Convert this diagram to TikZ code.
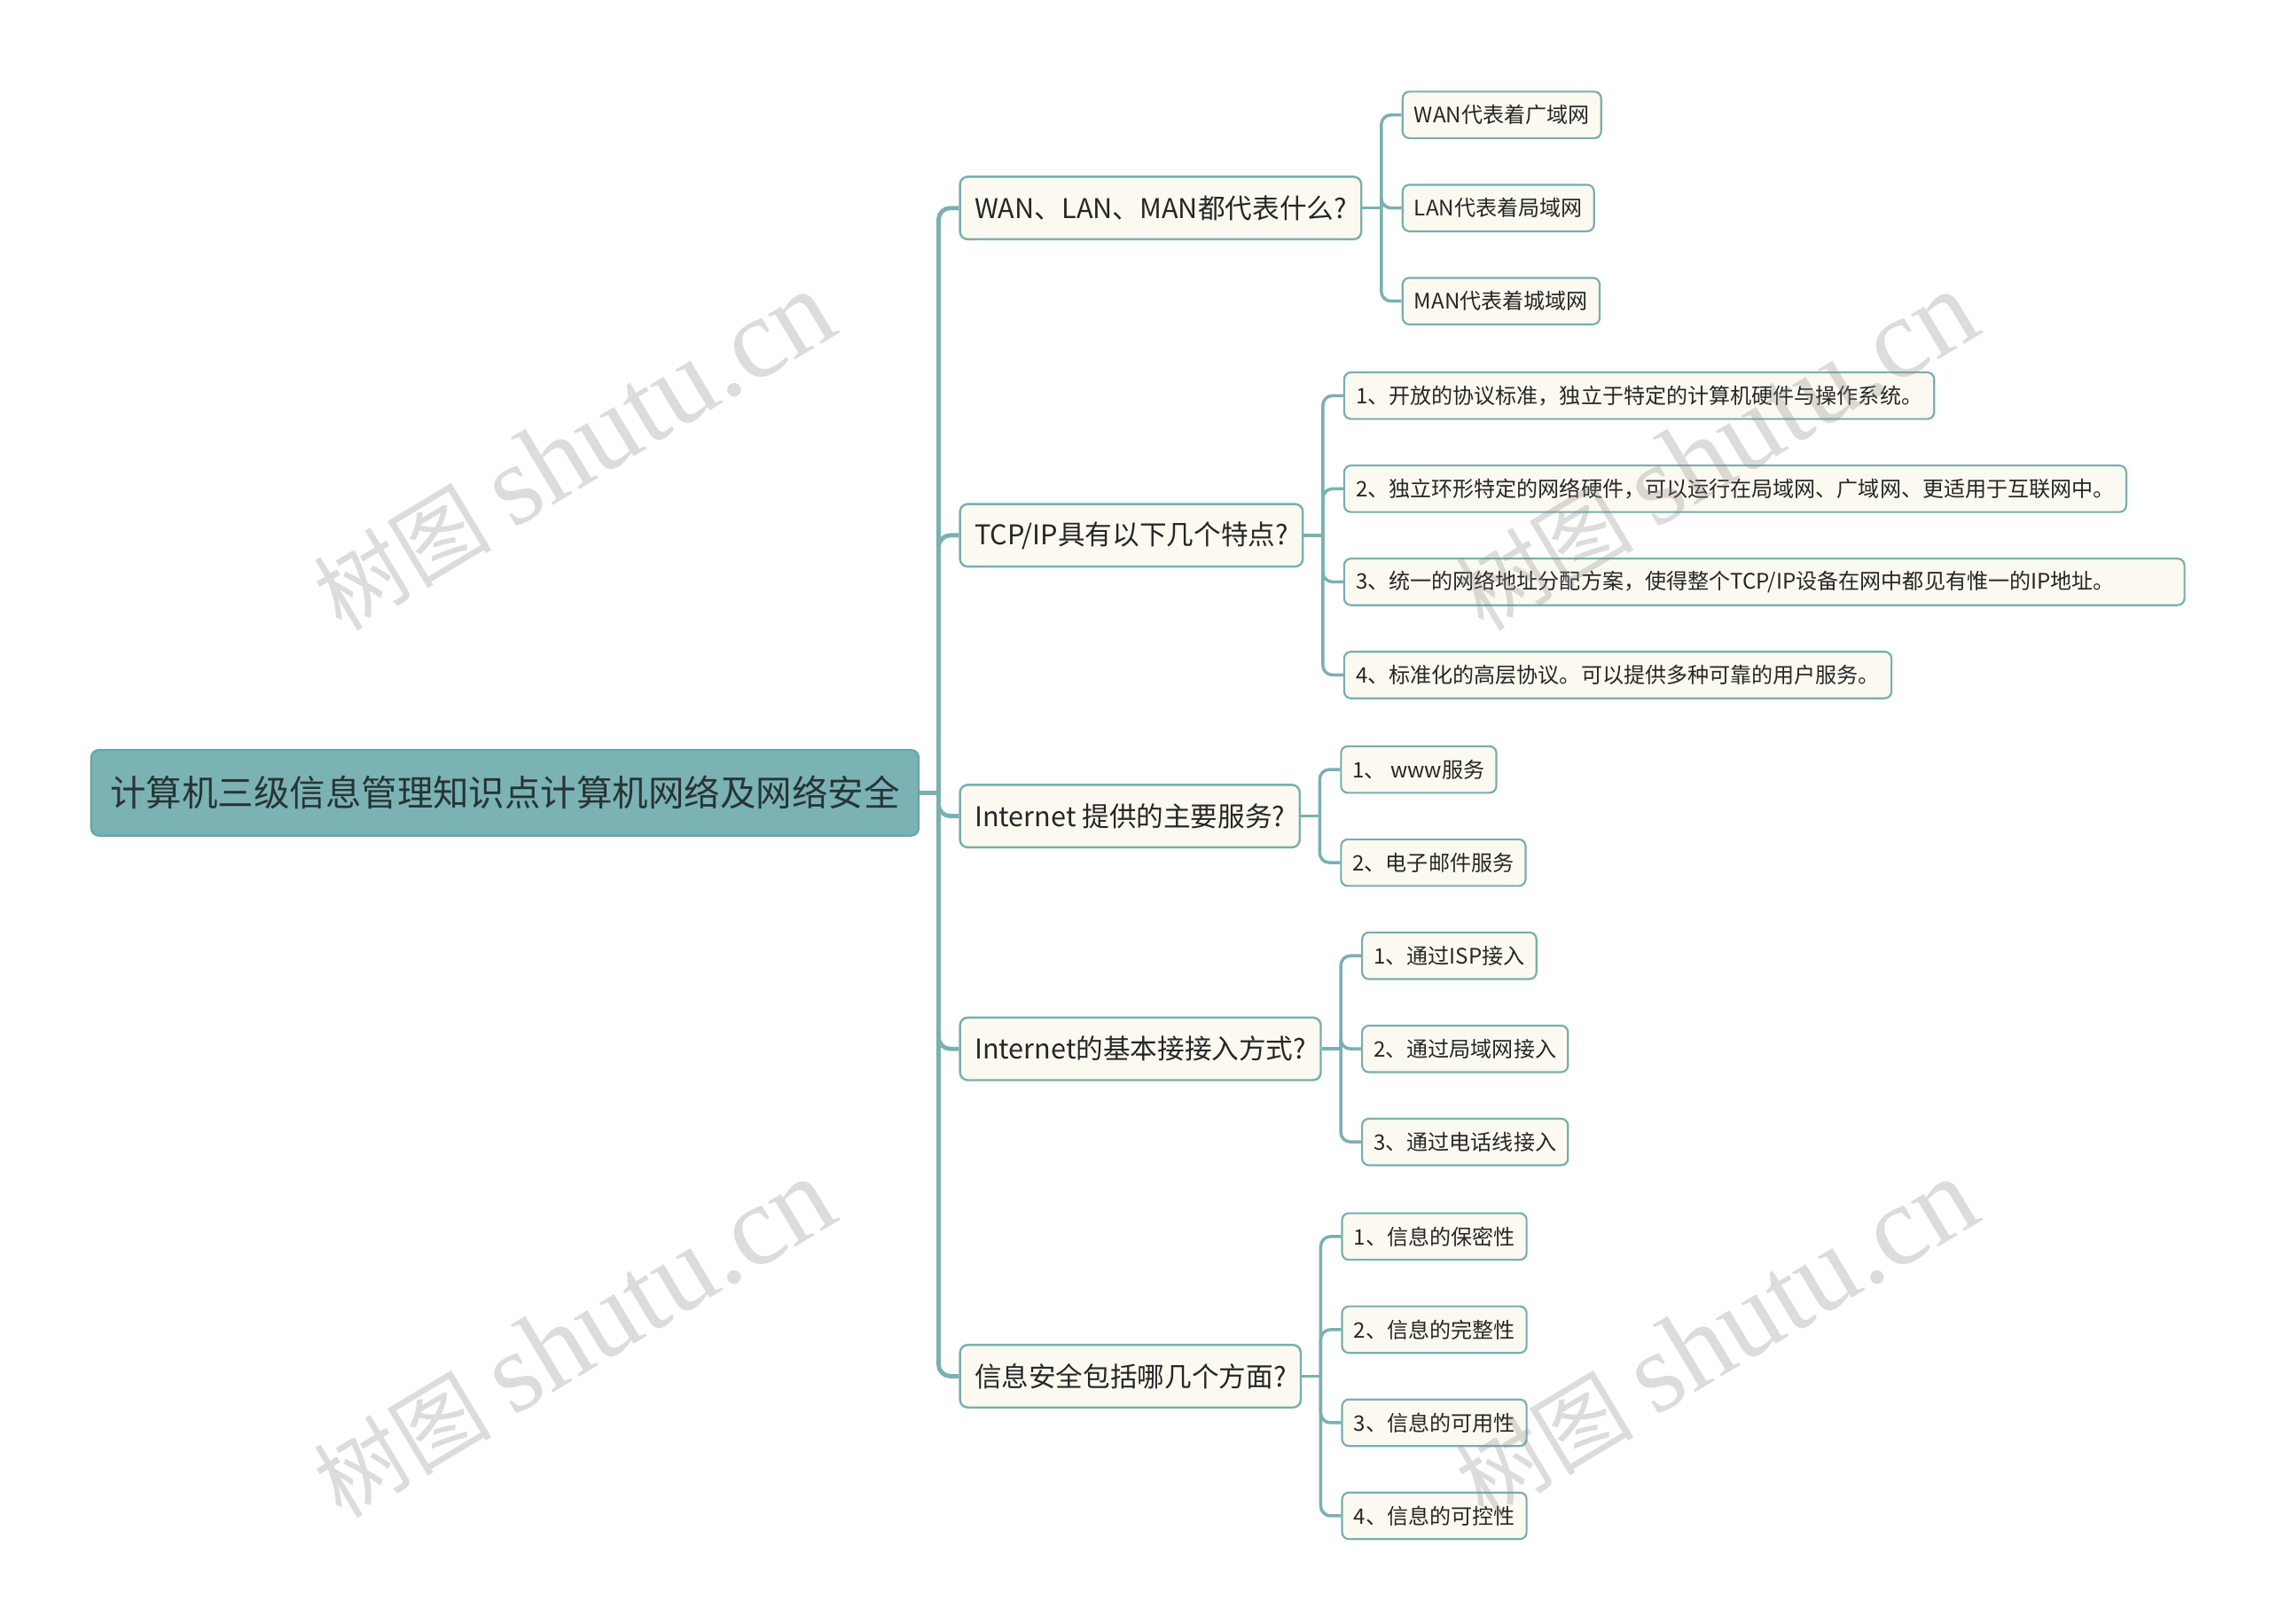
\documentclass[tikz,border=0pt]{standalone}
\usepackage{fontspec}
\setmainfont{Noto Sans CJK SC}
\newfontfamily\wmlatin{Liberation Serif}
\usetikzlibrary{positioning}

\definecolor{rootfill}{RGB}{123,179,181}
\definecolor{rootline}{RGB}{106,164,167}
\definecolor{rootink}{RGB}{40,52,52}
\definecolor{boxfill}{RGB}{252,250,240}
\definecolor{boxline}{RGB}{120,174,176}
\definecolor{linkline}{RGB}{122,176,178}
\definecolor{inktext}{RGB}{38,38,38}

\tikzset{every picture/.style={line width=0.75pt}}
\tikzset{
  rootbox/.style={draw=rootline, fill=rootfill, rounded corners=4pt, line width=1pt,
    inner xsep=9.75pt, inner ysep=0pt, minimum height=44.25pt,
    font=\fontsize{18.5}{22}\selectfont, text=rootink},
  topicbox/.style={draw=boxline, fill=boxfill, rounded corners=4pt, line width=1.1pt,
    inner xsep=7.5pt, inner ysep=0pt, minimum height=32.25pt,
    font=\fontsize{14}{17}\selectfont, text=inktext},
  leafbox/.style={draw=boxline, fill=boxfill, rounded corners=3.5pt, line width=1pt,
    inner xsep=6pt, inner ysep=0pt, minimum height=24pt,
    font=\fontsize{11}{13}\selectfont, text=inktext},
  trunk/.style={draw=linkline, line width=2.2pt, rounded corners=6pt},
  twig/.style={draw=linkline, line width=1.6pt, rounded corners=5pt},
  watermark/.style={text=black!45, opacity=0.3, rotate=31, inner sep=0pt}
}

\begin{document}
\begin{tikzpicture}[x=0.75pt,y=0.75pt,yscale=-1,xscale=1]
\useasboundingbox (0,0) rectangle (1560,1116);
\fill[white] (0,0) rectangle (1560,1116);

% Root
\node[rootbox, anchor=west] (root) at (62,545) {计算机三级信息管理知识点计算机网络及网络安全};

% Topics
\node[topicbox, anchor=west] (wan) at (659,143) {WAN、LAN、MAN都代表什么?};
\node[topicbox, anchor=west] (tcp) at (659,368) {TCP/IP具有以下几个特点?};
\node[topicbox, anchor=west] (svc) at (659,561) {Internet 提供的主要服务?};
\node[topicbox, anchor=west] (acc) at (659,721) {Internet的基本接接入方式?};
\node[topicbox, anchor=west] (sec) at (659,946) {信息安全包括哪几个方面?};

% Leaves of wan
\node[leafbox, right=20.25pt of wan, yshift=48pt] (wan1) {WAN代表着广域网};
\node[leafbox, right=20.25pt of wan] (wan2) {LAN代表着局域网};
\node[leafbox, right=20.25pt of wan, yshift=-48pt] (wan3) {MAN代表着城域网};

% Leaves of tcp
\node[leafbox, right=20.25pt of tcp, yshift=72pt] (tcp1) {1、开放的协议标准，独立于特定的计算机硬件与操作系统。};
\node[leafbox, right=20.25pt of tcp, yshift=24pt] (tcp2) {2、独立环形特定的网络硬件，可以运行在局域网、广域网、更适用于互联网中。};
\node[leafbox, right=20.25pt of tcp, yshift=-24pt] (tcp3) {3、统一的网络地址分配方案，使得整个TCP/IP设备在网中都见有惟一的IP地址。\hspace*{30pt}};
\node[leafbox, right=20.25pt of tcp, yshift=-72pt] (tcp4) {4、标准化的高层协议。可以提供多种可靠的用户服务。};

% Leaves of svc
\node[leafbox, right=20.25pt of svc, yshift=24pt] (svc1) {1、 www服务};
\node[leafbox, right=20.25pt of svc, yshift=-24pt] (svc2) {2、电子邮件服务};

% Leaves of acc
\node[leafbox, right=20.25pt of acc, yshift=48pt] (acc1) {1、通过ISP接入};
\node[leafbox, right=20.25pt of acc] (acc2) {2、通过局域网接入};
\node[leafbox, right=20.25pt of acc, yshift=-48pt] (acc3) {3、通过电话线接入};

% Leaves of sec
\node[leafbox, right=20.25pt of sec, yshift=72pt] (sec1) {1、信息的保密性};
\node[leafbox, right=20.25pt of sec, yshift=24pt] (sec2) {2、信息的完整性};
\node[leafbox, right=20.25pt of sec, yshift=-24pt] (sec3) {3、信息的可用性};
\node[leafbox, right=20.25pt of sec, yshift=-72pt] (sec4) {4、信息的可控性};

% Connectors
\coordinate[right=9.75pt of root.east] (hub);
\draw[trunk] (root.east) -- (hub);
\foreach \t in {wan,tcp,svc,acc,sec}
  \draw[trunk] (hub) |- (\t.west);

\foreach \t/\n in {wan/3,tcp/4,svc/2,acc/3,sec/4} {
  \coordinate[right=9.75pt of \t.east] (\t hub);
  \draw[twig] (\t.east) -- (\t hub);
  \foreach \i in {1,...,\n}
    \draw[twig] (\t hub) |- (\t\i.west);
}

% Watermarks
\foreach \p/\wx/\wy in {1/394/310,2/1179/310,3/394/920,4/1179/920}
  \node[watermark] (wm\p) at (\wx,\wy) {{\fontsize{46}{46}\selectfont 树图}\hspace{11pt}{\wmlatin\fontsize{59}{59}\selectfont shutu.cn}};
\end{tikzpicture}
\end{document}
